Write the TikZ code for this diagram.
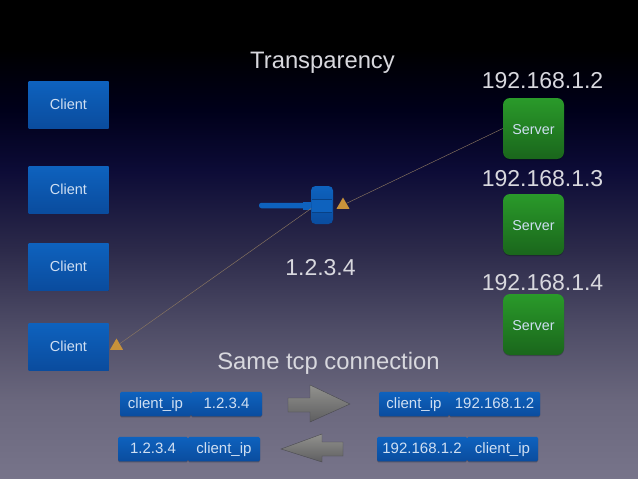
\documentclass[tikz,border=0pt]{standalone}
\usepackage{fontspec}
\setmainfont{Liberation Sans}
\usetikzlibrary{shapes.geometric,shadows}
\definecolor{bgA}{HTML}{000000}
\definecolor{bgB}{HTML}{00001A}
\definecolor{bgC}{HTML}{0C0B36}
\definecolor{bgD}{HTML}{2C2A4A}
\definecolor{bgE}{HTML}{4F4D67}
\definecolor{bgF}{HTML}{6A677D}
\definecolor{bgG}{HTML}{77748A}
\pgfdeclareverticalshading{slidebg}{100bp}{
  color(0bp)=(bgG); color(25bp)=(bgG); color(33.2bp)=(bgF); color(40.6bp)=(bgE);
  color(48.9bp)=(bgD); color(57.3bp)=(bgC); color(63.5bp)=(bgB); color(70bp)=(bgA); color(100bp)=(bgA)}
\definecolor{blueT}{HTML}{0E62BE}
\definecolor{blueB}{HTML}{0A4C9E}
\definecolor{greenT}{HTML}{2A9A2A}
\definecolor{greenB}{HTML}{1A661C}
\definecolor{textC}{HTML}{CFDFF2}
\definecolor{bigC}{HTML}{D8D8DE}
\definecolor{tipC}{HTML}{C8923A}
\definecolor{lineC}{HTML}{8A7660}
\definecolor{arrowT}{HTML}{92928E}
\definecolor{arrowB}{HTML}{5E5E60}
\definecolor{arrowE}{HTML}{4A4A50}
\tikzset{
  softshadow/.style={drop shadow={shadow xshift=0pt,shadow yshift=-1pt,opacity=.25,fill=black}},
  client/.style={rectangle,minimum width=80pt,minimum height=47pt,inner sep=0pt,top color=blueT,bottom color=blueB,text=textC,font=\fontsize{14.5}{16}\selectfont,text height=12.5pt,text depth=2pt,softshadow},
  server/.style={rectangle,rounded corners=7pt,minimum width=61pt,minimum height=61pt,inner sep=0pt,top color=greenT,bottom color=greenB,text=textC,font=\fontsize{14.3}{16}\selectfont,text height=13.5pt,text depth=2pt,softshadow},
  cell/.style={rectangle,rounded corners=1.5pt,minimum height=24.5pt,inner sep=0pt,top color=blueT,bottom color=blueB,text=textC,font=\fontsize{15}{17}\selectfont,text height=11pt,text depth=2.5pt,softshadow},
  big/.style={inner sep=0pt,anchor=base,text=bigC,font=\fontsize{23}{26}\selectfont},
  bigger/.style={big,font=\fontsize{23.8}{26}\selectfont},
  tipmark/.style={regular polygon,regular polygon sides=3,minimum size=15pt,inner sep=0pt,fill=tipC},
  conn/.style={draw=lineC,line width=.45pt},
  fatarrow/.style={top color=arrowT,bottom color=arrowB,draw=arrowE,line width=.4pt},
  gavelpart/.style={rectangle,inner sep=0pt,fill=blueT}
}
\begin{document}
\begin{tikzpicture}[x=1pt,y=-1pt]
\path[use as bounding box,shading=slidebg] (0,0) rectangle (638,479);
% titles
\node[bigger] (title) at (322.5,68.5) {Transparency};
\node[big] (vip) at (320.5,275) {1.2.3.4};
\node[bigger] (same) at (328.5,369) {Same tcp connection};
\node[big] (ipa) at (542.5,88) {192.168.1.2};
\node[big] (ipb) at (542.5,186) {192.168.1.3};
\node[big] (ipc) at (542.5,290) {192.168.1.4};
% clients
\node[client] (c1) at (68.5,104.5) {Client};
\node[client] (c2) at (68.5,189.5) {Client};
\node[client] (c3) at (68.5,266.5) {Client};
\node[client] (c4) at (68.5,346.5) {Client};
% servers
\node[server] (s1) at (533.5,128.5) {Server};
\node[server] (s2) at (533.5,224.5) {Server};
\node[server] (s3) at (533.5,324.5) {Server};
% gavel
\node[gavelpart,rounded corners=2.5pt,minimum width=52pt,minimum height=5.5pt] (handle) at (285,205.5) {};
\node[gavelpart,minimum width=8pt,minimum height=8pt] (collar) at (307,205.5) {};
\node[rectangle,rounded corners=4.5pt,minimum width=22pt,minimum height=38pt,inner sep=0pt,top color=blueT,bottom color=blueB] (head) at (322,205) {};
\node[gavelpart,minimum width=20pt,minimum height=13pt] (band) at (322,205.5) {};
\draw[blueB!85!black,line width=.4pt] (band.north west) -- (band.north east) (band.south west) -- (band.south east);
% connectors
\node[tipmark] (t1) at (343,205) {};
\node[tipmark] (t2) at (116.5,346) {};
\draw[conn] (s1.west) -- (t1);
\draw[conn] (handle.south east) -- (t2);
% header rows
\node[cell,minimum width=71pt] (ra1) at (155.5,404) {client\_ip};
\node[cell,minimum width=71pt] (ra2) at (226.5,404) {1.2.3.4};
\node[cell,minimum width=70pt] (rb1) at (153,449) {1.2.3.4};
\node[cell,minimum width=72pt] (rb2) at (224,449) {client\_ip};
\node[cell,minimum width=70pt] (rc1) at (414,404) {client\_ip};
\node[cell,minimum width=91pt] (rc2) at (494.5,404) {192.168.1.2};
\node[cell,minimum width=90pt] (rd1) at (422,449) {192.168.1.2};
\node[cell,minimum width=71pt] (rd2) at (502.5,449) {client\_ip};
% big arrows
\path[fatarrow] (288,398) -- (310,398) -- (310,385) -- (350,404) -- (310,422) -- (310,412) -- (288,412) -- cycle;
\path[fatarrow] (343,442) -- (322,442) -- (322,434) -- (281,449) -- (322,462) -- (322,456) -- (343,456) -- cycle;
\end{tikzpicture}
\end{document}
